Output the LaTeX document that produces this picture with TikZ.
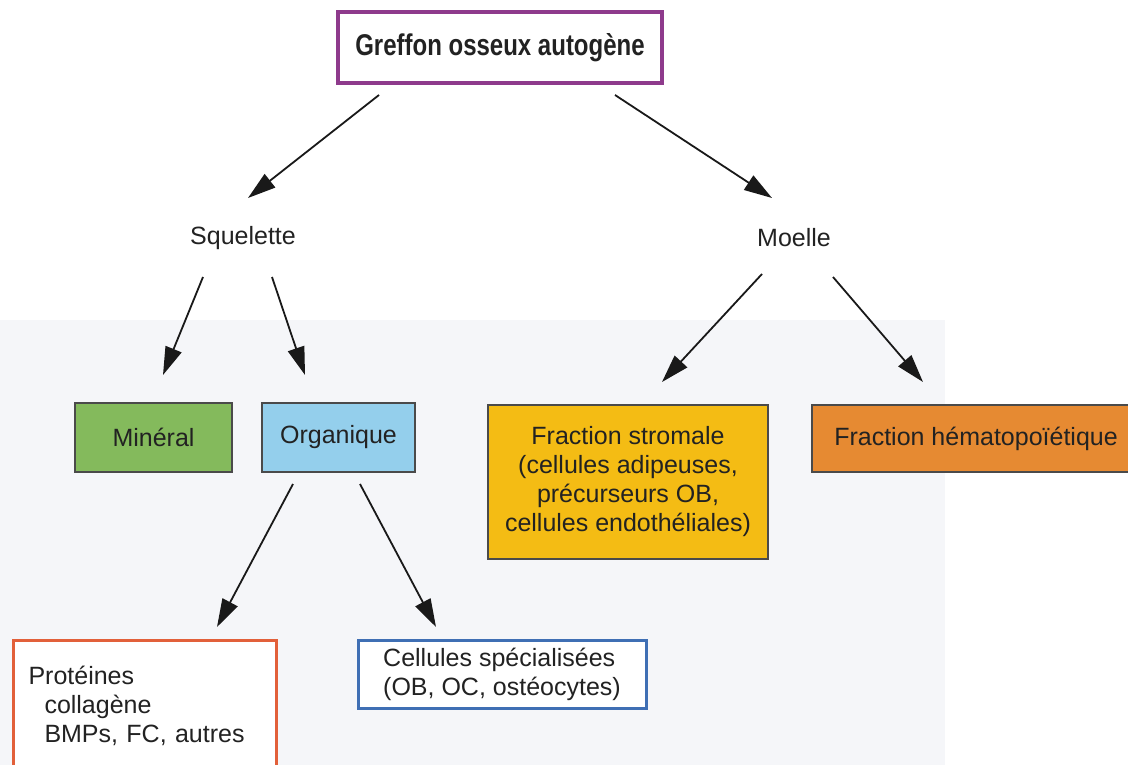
\documentclass[tikz,border=0pt]{standalone}
\usepackage{fontspec}
\setmainfont{Liberation Sans}
\newfontfamily\titlefont[FakeStretch=0.8]{Liberation Sans}
\usetikzlibrary{arrows.meta}
\definecolor{textc}{HTML}{222222}
\definecolor{purpleline}{HTML}{8E3A8C}
\definecolor{boxline}{HTML}{4A4A4A}
\definecolor{mingreen}{HTML}{84BA5C}
\definecolor{orgblue}{HTML}{94CFEC}
\definecolor{stromyellow}{HTML}{F4BC14}
\definecolor{hemorange}{HTML}{E68A32}
\definecolor{protred}{HTML}{E2603A}
\definecolor{cellblue}{HTML}{3F6FB4}
\definecolor{paper}{HTML}{F5F6F9}
\begin{document}
\begin{tikzpicture}[x=1pt,y=-1pt,
  txt/.style={font=\fontsize{25}{29}\selectfont, text=textc},
  fillbox/.style={txt, draw=boxline, line width=1.5pt, inner sep=0pt},
  linebox/.style={txt, fill=white, line width=3pt, inner sep=0pt},
  arr/.style={draw=black!90, line width=1.8pt, -{Triangle[length=28pt,width=17pt]}}]
\useasboundingbox (0,0) rectangle (1128,765);
\clip (0,0) rectangle (1128,765);
\fill[white] (0,0) rectangle (1128,765);
\fill[paper] (0,320) rectangle (945,765);

% top
\node[txt, draw=purpleline, fill=white, line width=3.5pt, minimum width=324, minimum height=71, inner sep=0pt,
      font=\titlefont\bfseries\fontsize{30}{34}\selectfont] (top) at (500,47.5) {Greffon osseux autogène};

\node[txt] (sq) at (243,238) {Squelette};
\node[txt] (mo) at (794,238) {Moelle};

\node[fillbox, fill=mingreen, minimum width=157, minimum height=69] (min) at (153.5,437.5) {Minéral};
\node[fillbox, fill=orgblue, minimum width=153, minimum height=69] (org) at (338.5,437.5) {Organique};
\node[fillbox, fill=stromyellow, minimum width=280, minimum height=154, align=center] (str) at (628,482)
  {Fraction stromale\\(cellules adipeuses,\\précurseurs OB,\\cellules endothéliales)};
\node[fillbox, fill=hemorange, minimum width=328, minimum height=67] (hem) at (976,438.5) {Fraction hématopoïétique};

\node[linebox, draw=protred, anchor=north west, minimum width=263, minimum height=130,
      text width=233, inner xsep=15pt, align=left] (prot) at (12,639)
  {Protéines\\\hspace*{16pt}collagène\\\hspace*{16pt}BMPs, FC, autres};
\node[linebox, draw=cellblue, minimum width=288, minimum height=68, align=left] (cell) at (502,674)
  {Cellules spécialisées\\(OB, OC, ostéocytes)};

% arrow end points
\coordinate (a1s) at (379,95);  \coordinate (a1e) at (248,198);
\coordinate (a2s) at (615,95);  \coordinate (a2e) at (772,198);
\coordinate (a3s) at (203,277); \coordinate (a3e) at (163,375);
\coordinate (a4s) at (272,277); \coordinate (a4e) at (305,375);
\coordinate (a5s) at (762,274); \coordinate (a5e) at (662,382);
\coordinate (a6s) at (833,277); \coordinate (a6e) at (923,382);
\coordinate (a7s) at (293,484); \coordinate (a7e) at (217,627);
\coordinate (a8s) at (360,484); \coordinate (a8e) at (436,627);

\draw[arr] (a1s) -- (a1e);
\draw[arr] (a2s) -- (a2e);
\draw[arr] (a3s) -- (a3e);
\draw[arr] (a4s) -- (a4e);
\draw[arr] (a5s) -- (a5e);
\draw[arr] (a6s) -- (a6e);
\draw[arr] (a7s) -- (a7e);
\draw[arr] (a8s) -- (a8e);
\end{tikzpicture}
\end{document}
